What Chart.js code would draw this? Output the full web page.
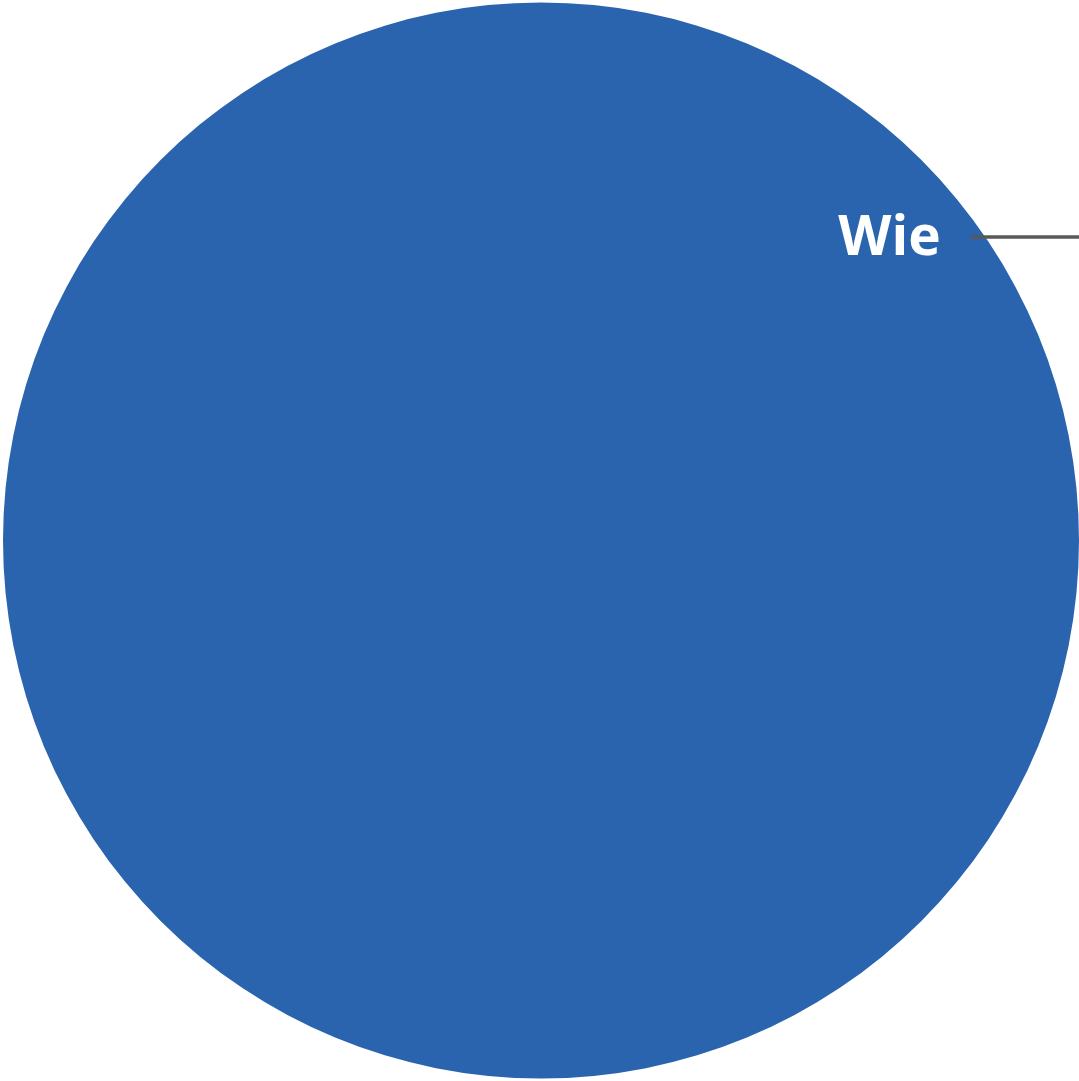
<!DOCTYPE html>
<html>
<head>
<meta charset="utf-8">
<script src="https://cdn.jsdelivr.net/npm/chart.js@4/dist/chart.umd.min.js"></script>
<style>
html,body{margin:0;padding:0;background:#ffffff;overflow:hidden;}
#wrap{width:1079px;height:1081px;position:relative;}
</style>
</head>
<body>
<div id="wrap"><canvas id="c" width="1079" height="1081"></canvas></div>
<script>
const categories = ["Wie"];
const values = [100];
const sliceColors = ["#2A64AE"];

const labelPlugin = {
  id: 'sliceLabel',
  afterDatasetsDraw(chart) {
    const ctx = chart.ctx;
    const arc = chart.getDatasetMeta(0).data[0];
    if (!arc) return;
    const cx = arc.x, cy = arc.y, r = arc.outerRadius;
    const tx = cx + r * 0.743;
    const ty = cy - r * 0.564;
    ctx.save();
    ctx.font = 'bold 55px "Open Sans", Lato, sans-serif';
    ctx.fillStyle = '#ffffff';
    ctx.textAlign = 'right';
    ctx.textBaseline = 'alphabetic';
    ctx.fillText(categories[0], tx, ty + 18);
    ctx.strokeStyle = '#595959';
    ctx.lineWidth = 3.5;
    ctx.beginPath();
    ctx.moveTo(tx + 30, ty);
    ctx.lineTo(chart.width, ty);
    ctx.stroke();
    ctx.restore();
  }
};

new Chart(document.getElementById('c'), {
  type: 'pie',
  data: {
    labels: categories,
    datasets: [{ data: values, backgroundColor: sliceColors, borderWidth: 0 }]
  },
  options: {
    responsive: false,
    devicePixelRatio: 1,
    animation: false,
    layout: { padding: { left: 3, right: 0, top: 2, bottom: 2 } },
    plugins: { legend: { display: false }, tooltip: { enabled: false } }
  },
  plugins: [labelPlugin]
});
</script>
</body>
</html>
